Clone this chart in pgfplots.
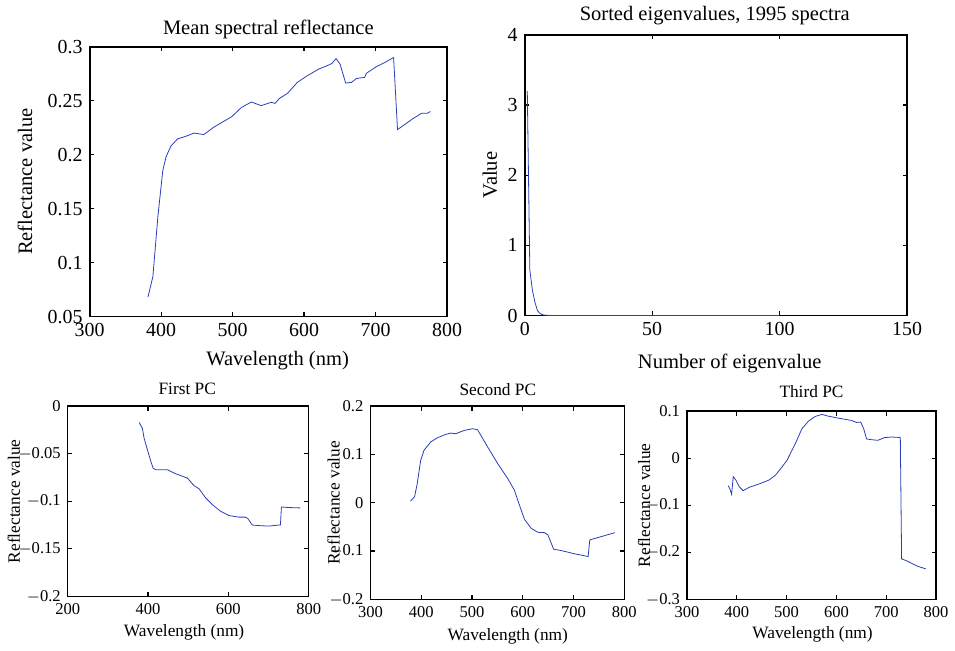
\documentclass[border=0pt]{standalone}
\usepackage{fontspec}
\setmainfont{Liberation Serif}
\usepackage{pgfplots}
\pgfplotsset{compat=1.18}
\definecolor{lc}{rgb}{0.16,0.24,0.73}
\newcommand{\mm}{\mbox{$-$}}
\begin{document}
\begin{tikzpicture}
\path (0,0) rectangle (477.5pt,324pt);
\pgfplotsset{
  mat/.style={scale only axis, axis line style={line width=0.9pt}, tick style={black, line width=0.6pt},
    major tick length=2.2pt, tick align=inside, xtick pos=both, ytick pos=both,
    /pgf/number format/assume math mode=true, scaled ticks=false,
    every axis title shift=0pt,
    tick label style={font=\fontsize{10}{11}\selectfont},
    label style={font=\fontsize{10.3}{12}\selectfont},
    title style={font=\fontsize{10.3}{12}\selectfont},
    xlabel style={anchor=center}, ylabel style={anchor=center}, title style={anchor=center},
    no markers, cycle list={{lc, line width=0.65pt}},
    /pgf/number format/fixed},
  small/.style={axis line style={line width=0.7pt},
    tick label style={font=\fontsize{8.3}{10}\selectfont},
    label style={font=\fontsize{8.7}{10}\selectfont},
    title style={font=\fontsize{8.7}{10}\selectfont}},
}
% Top-left
\begin{axis}[mat, at={(45pt,166pt)}, anchor=south west, width=179.5pt, height=135.5pt,
  xmin=300, xmax=800, ymin=0.05, ymax=0.3, xtick={300,400,...,800},
  ytick={0.05,0.1,0.15,0.2,0.25,0.3}, yticklabels={0.05,0.1,0.15,0.2,0.25,0.3},
  title={Mean spectral reflectance}, title style={at={(axis description cs:0.5,1.063)}},
  xlabel={Wavelength (nm)}, xlabel style={at={(axis description cs:0.526,-0.162)}},
  ylabel={Reflectance value}, ylabel style={at={(axis description cs:-0.181,0.5)}}]
\addplot table {
381.6 0.068
388.5 0.087
395.4 0.142
402.3 0.185
406.9 0.198
413.8 0.208
423.0 0.2146
434.5 0.217
446.0 0.220
459.7 0.2186
473.5 0.2254
487.0 0.2306
498.8 0.2352
512.5 0.2438
526.3 0.2488
540.0 0.2454
553.9 0.2485
559.4 0.2475
565.4 0.252
576.8 0.2568
590.6 0.267
604.4 0.2731
620.5 0.2793
634.3 0.283
638.9 0.2845
644.8 0.289
650.3 0.2839
658.2 0.2663
666.4 0.267
673.3 0.2706
684.8 0.2716
687.0 0.2753
700.9 0.2814
714.6 0.286
725.2 0.290
730.7 0.2232
739.9 0.2275
751.4 0.233
764.3 0.2383
772.0 0.2383
776.7 0.240
};
\end{axis}
% Top-right
\begin{axis}[mat, at={(263.5pt,166.5pt)}, anchor=south west, width=192pt, height=141pt,
  xmin=0, xmax=150, ymin=0, ymax=4, xtick={0,50,100,150}, ytick={0,1,2,3,4},
  title={Sorted eigenvalues, 1995 spectra}, title style={at={(axis description cs:0.497,1.067)}},
  xlabel={Number of eigenvalue}, xlabel style={at={(axis description cs:0.536,-0.170)}},
  ylabel={Value}, ylabel style={at={(axis description cs:-0.091,0.5)}}]
\addplot table {
1 3.2
2 0.65
3 0.36
4 0.19
5 0.07
6 0.03
7 0.012
8 0.006
9 0.003
10 0.002
12 0.001
15 0.0006
20 0.0004
30 0.0003
40 0.0002
50 0.0002
60 0.0001
70 0.0001
80 0.0001
90 0.0001
100 0.0001
};
\end{axis}
% Bottom-left
\begin{axis}[mat, small, at={(34pt,25.5pt)}, anchor=south west, width=121pt, height=95.5pt,
  xmin=200, xmax=800, ymin=-0.2, ymax=0, xtick={200,400,600,800},
  ytick={-0.2,-0.15,-0.1,-0.05,0}, yticklabels={\mm0.2,\mm0.15,\mm0.1,\mm0.05,0},
  title={First PC}, title style={at={(axis description cs:0.496,1.089)}},
  xlabel={Wavelength (nm)}, xlabel style={at={(axis description cs:0.483,-0.188)}},
  ylabel={Reflectance value}, ylabel style={at={(axis description cs:-0.223,0.5)}}]
\addplot table {
378 -0.0171
386 -0.0233
390.3 -0.0338
398.6 -0.046
407 -0.058
412.7 -0.0652
419.3 -0.0669
448.3 -0.0669
469 -0.0711
498 -0.0756
514.5 -0.0836
527 -0.0868
543.5 -0.0965
560 -0.1035
580.7 -0.1105
601.4 -0.115
626.2 -0.1167
642.8 -0.1167
649.4 -0.1185
659.3 -0.125
684.2 -0.1258
700.7 -0.1261
725.5 -0.125
729.7 -0.125
732.2 -0.106
750.4 -0.1066
779.3 -0.107
};
\end{axis}
% Bottom-middle
\begin{axis}[mat, small, at={(186pt,24pt)}, anchor=south west, width=127.5pt, height=97pt,
  xmin=300, xmax=800, ymin=-0.2, ymax=0.2, xtick={300,400,...,800},
  ytick={-0.2,-0.1,0,0.1,0.2}, yticklabels={\mm0.2,\mm0.1,0,0.1,0.2},
  title={Second PC}, title style={at={(axis description cs:0.502,1.088)}},
  xlabel={Wavelength (nm)}, xlabel style={at={(axis description cs:0.541,-0.191)}},
  ylabel={Reflectance value}, ylabel style={at={(axis description cs:-0.145,0.5)}}]
\addplot table {
379 0.0034
387 0.0124
392.3 0.040
399 0.088
405.5 0.1086
418.7 0.1258
432 0.1347
448.4 0.1416
458.3 0.1443
468.2 0.143
484.7 0.1498
501.2 0.1533
511 0.1512
530.9 0.1155
550.7 0.0811
570.4 0.0502
583.6 0.0261
593.5 -0.0048
603.4 -0.0344
616.6 -0.0529
629.8 -0.0612
643 -0.0619
649.6 -0.0667
660.8 -0.0962
676 -0.099
702.4 -0.1058
728.8 -0.1113
732 -0.077
755 -0.070
781.5 -0.0619
};
\end{axis}
% Bottom-right
\begin{axis}[mat, small, at={(345pt,24pt)}, anchor=south west, width=125pt, height=94.5pt,
  xmin=300, xmax=800, ymin=-0.3, ymax=0.1, xtick={300,400,...,800},
  ytick={-0.3,-0.2,-0.1,0,0.1}, yticklabels={\mm0.3,\mm0.2,\mm0.1,0,0.1},
  title={Third PC}, title style={at={(axis description cs:0.5,1.106)}},
  xlabel={Wavelength (nm)}, xlabel style={at={(axis description cs:0.504,-0.185)}},
  ylabel={Reflectance value}, ylabel style={at={(axis description cs:-0.172,0.5)}}]
\addplot table {
382.9 -0.0585
386.9 -0.0676
389.5 -0.0768
392.8 -0.0394
398.1 -0.0465
404.8 -0.0606
412.7 -0.069
424.7 -0.062
447.9 -0.0535
464.5 -0.0465
477.7 -0.036
491 -0.0183
501 -0.0042
517.5 0.031
530.8 0.0627
544 0.0789
557.3 0.0887
570.6 0.093
583.8 0.0894
603.7 0.0852
630.2 0.0803
640.2 0.076
648.8 0.0768
654.8 0.0627
660.7 0.0408
670 0.0394
683.3 0.038
696.6 0.0437
709.8 0.045
723 0.0444
728.4 0.0437
731 -0.214
743 -0.219
762.9 -0.2296
779.4 -0.2352
};
\end{axis}
\end{tikzpicture}
\end{document}
